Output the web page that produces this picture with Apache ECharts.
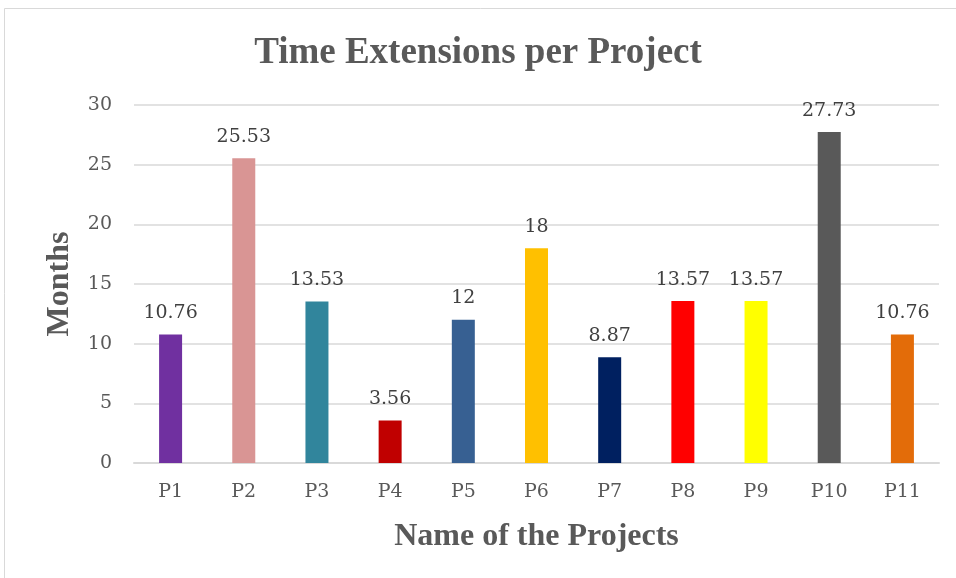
<!DOCTYPE html>
<html>
<head>
<meta charset="utf-8">
<script src="https://cdn.jsdelivr.net/npm/echarts@6/dist/echarts.min.js"></script>
<style>
  html, body { margin: 0; padding: 0; background: #fff; }
  #chart { width: 956px; height: 578px; }
</style>
</head>
<body>
<div id="chart"></div>
<script>
  var projects = ['P1', 'P2', 'P3', 'P4', 'P5', 'P6', 'P7', 'P8', 'P9', 'P10', 'P11'];
  var months = [10.76, 25.53, 13.53, 3.56, 12, 18, 8.87, 13.57, 13.57, 27.73, 10.76];
  var barColors = ['#7030A0', '#D99594', '#31859C', '#C00000', '#376092', '#FFC000',
                   '#002060', '#FF0000', '#FFFF00', '#595959', '#E36C09'];

  var chart = echarts.init(document.getElementById('chart'));
  chart.setOption({
    animation: false,
    title: {
      text: 'Time Extensions per Project',
      left: 'center',
      top: 30,
      textStyle: {
        fontFamily: 'Liberation Serif',
        fontWeight: 'bold',
        fontSize: 37,
        color: '#595959'
      }
    },
    graphic: [{
      type: 'rect',
      shape: { x: 4.5, y: 8.5, width: 960, height: 600 },
      style: { fill: 'none', stroke: '#d9d9d9', lineWidth: 1 },
      silent: true
    }],
    grid: {
      left: 134,
      right: 17,
      top: 105,
      bottom: 115
    },
    xAxis: {
      type: 'category',
      data: projects,
      name: 'Name of the Projects',
      nameLocation: 'middle',
      nameGap: 58,
      nameTextStyle: {
        fontFamily: 'Liberation Serif',
        fontWeight: 'bold',
        fontSize: 32,
        color: '#595959'
      },
      axisTick: { show: false },
      axisLine: { lineStyle: { color: '#d9d9d9', width: 2 } },
      axisLabel: {
        fontFamily: 'DejaVu Serif',
        fontSize: 19,
        color: '#595959',
        margin: 20
      }
    },
    yAxis: {
      type: 'value',
      min: 0,
      max: 30,
      interval: 5,
      name: 'Months',
      nameLocation: 'middle',
      nameGap: 58,
      nameTextStyle: {
        fontFamily: 'Liberation Serif',
        fontWeight: 'bold',
        fontSize: 32,
        color: '#595959'
      },
      axisLine: { show: false },
      axisTick: { show: false },
      splitLine: { lineStyle: { color: '#d9d9d9', width: 1.5 } },
      axisLabel: {
        fontFamily: 'DejaVu Serif',
        fontSize: 19,
        color: '#595959',
        margin: 22
      }
    },
    series: [{
      type: 'bar',
      data: months.map(function (v, i) {
        return { value: v, itemStyle: { color: barColors[i] } };
      }),
      barWidth: 23,
      label: {
        show: true,
        position: 'top',
        distance: 12,
        fontFamily: 'DejaVu Serif',
        fontSize: 19,
        color: '#404040'
      }
    }]
  });
</script>
</body>
</html>
